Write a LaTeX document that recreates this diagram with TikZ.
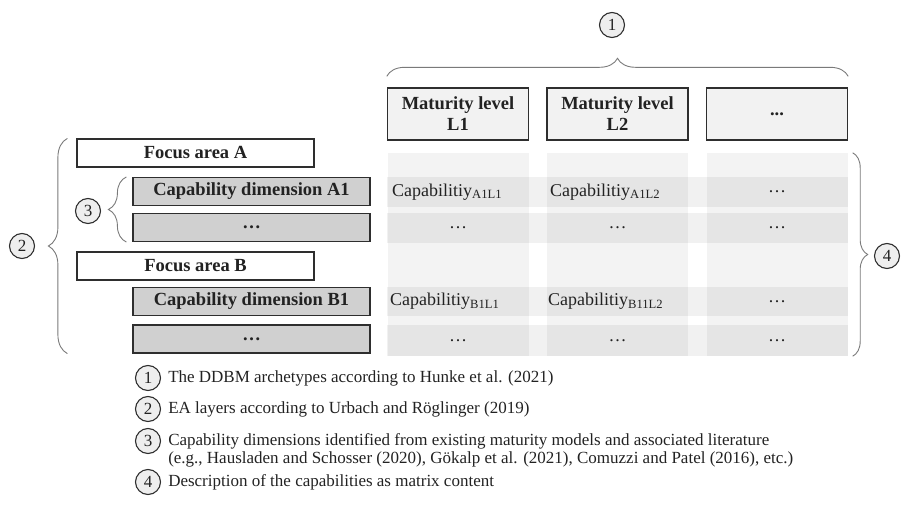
\documentclass[tikz,border=0pt]{standalone}
\usepackage{fontspec}
\setmainfont{Liberation Serif}
\usetikzlibrary{positioning, calc, decorations.pathreplacing}
\definecolor{boxline}{HTML}{2E2E2E}
\definecolor{hdrgray}{HTML}{F2F2F2}
\definecolor{dimgray}{HTML}{D0D0D0}
\definecolor{markgray}{HTML}{EEEEEE}
\definecolor{colgray}{HTML}{F3F3F3}
\definecolor{bracegray}{HTML}{7A7A7A}
\definecolor{txtgray}{HTML}{222222}

\begin{document}
\begin{tikzpicture}[x=1pt, y=-1pt, text=txtgray,
	lvlbox/.style={draw=boxline, line width=1.4pt, fill=hdrgray, minimum width=141pt, minimum height=52pt, inner sep=0pt, align=center, font=\bfseries\fontsize{18.5}{21}\selectfont},
	areabox/.style={draw=boxline, line width=1.2pt, fill=white, minimum width=237pt, minimum height=28pt, inner sep=0pt, font=\bfseries\fontsize{18.5}{20}\selectfont},
	dimbox/.style={areabox, fill=dimgray},
	colbox/.style={fill=colgray, minimum width=141pt, minimum height=203pt, inner sep=0pt},
	rowband/.style={fill=black, opacity=.055},
	marker/.style={circle, draw=boxline, line width=1.1pt, fill=markgray, minimum size=25pt, inner sep=0pt, font=\fontsize{17}{17}\selectfont},
	bracket/.style={draw=bracegray, line width=0.9pt, decorate, decoration={brace, amplitude=#1}},
	cell/.style={inner sep=0pt, font=\fontsize{18}{20}\selectfont},
	legend/.style={inner sep=0pt, font=\fontsize{17}{19}\selectfont}]
	\useasboundingbox (0,0) rectangle (906,506);

	\node[lvlbox] (lvl1) at (458,114) {Maturity level\\L1};
	\node[lvlbox] (lvl2) at (617.5,114) {Maturity level\\L2};
	\node[lvlbox] (lvl3) at (777,114) {...};

	\node[colbox] (col1) at (458,254.5) {};
	\node[colbox] (col2) at (617.5,254.5) {};
	\node[colbox] (col3) at (777,254.5) {};
	\fill[rowband] (387,177) rectangle (848,207);
	\fill[rowband] (387,213) rectangle (848,243);
	\fill[rowband] (387,287) rectangle (848,316);
	\fill[rowband] (387,325) rectangle (848,356);

	\node[areabox] (fa) at (195.5,153) {Focus area A};
	\node[dimbox] (capA) at (251.5,191.5) {Capability dimension A1};
	\node[dimbox] (dotsA) at (251.5,227.5) {\dots};
	\node[areabox] (fb) at (195.5,266) {Focus area B};
	\node[dimbox] (capB) at (251.5,301.5) {Capability dimension B1};
	\node[dimbox] (dotsB) at (251.5,339) {\dots};

	\node[cell, anchor=west] (a1l1) at (392,192) {Capabilitiy\textsubscript{A1L1}};
	\node[cell, anchor=west] (a1l2) at (550,192) {Capabilitiy\textsubscript{A1L2}};
	\node[cell] (a1l3) at (777,192) {\dots};
	\node[cell] (a2l1) at (458,228) {\dots};
	\node[cell] (a2l2) at (617.5,228) {\dots};
	\node[cell] (a2l3) at (777,228) {\dots};
	\node[cell, anchor=west] (b1l1) at (390,301.5) {Capabilitiy\textsubscript{B1L1}};
	\node[cell, anchor=west] (b1l2) at (548,301.5) {Capabilitiy\textsubscript{B11L2}};
	\node[cell] (b1l3) at (777,301.5) {\dots};
	\node[cell] (b2l1) at (458,340.5) {\dots};
	\node[cell] (b2l2) at (617.5,340.5) {\dots};
	\node[cell] (b2l3) at (777,340.5) {\dots};

	\node[marker] (m1) at (612,25) {1};
	\node[marker] (m2) at (22,246) {2};
	\node[marker] (m3) at (88,211) {3};
	\node[marker] (m4) at (887,256) {4};

	\draw[bracket=18pt] ([yshift=11pt]lvl1.north west) -- ([yshift=11pt]lvl3.north east);
	\draw[bracket=19pt] ([xshift=-9pt]dotsB.south -| fa.west) -- ([xshift=-9pt]fa.north west);
	\draw[bracket=18pt] ([xshift=-6pt]dotsA.south west) -- ([xshift=-6pt]capA.north west);
	\draw[bracket=15pt] ([xshift=5pt]col3.north east) -- ([xshift=5pt]col3.south east);

	\node[marker] (k1) at (148,378) {1};
	\node[marker] (k2) at (148,409) {2};
	\node[marker] (k3) at (148,441) {3};
	\node[marker] (k4) at (148,482) {4};
	\node[legend, right=7pt of k1] (t1) {The DDBM archetypes according to Hunke et al. (2021)};
	\node[legend, right=7pt of k2] (t2) {EA layers according to Urbach and Röglinger (2019)};
	\node[legend, right=7pt of k3] (t3) {Capability dimensions identified from existing maturity models and associated literature};
	\node[legend, anchor=base west] (t3b) at ($(t3.base west)+(0,18.5)$) {(e.g., Hausladen and Schosser (2020), Gökalp et al. (2021), Comuzzi and Patel (2016), etc.)};
	\node[legend, right=7pt of k4] (t4) {Description of the capabilities as matrix content};
\end{tikzpicture}
\end{document}
